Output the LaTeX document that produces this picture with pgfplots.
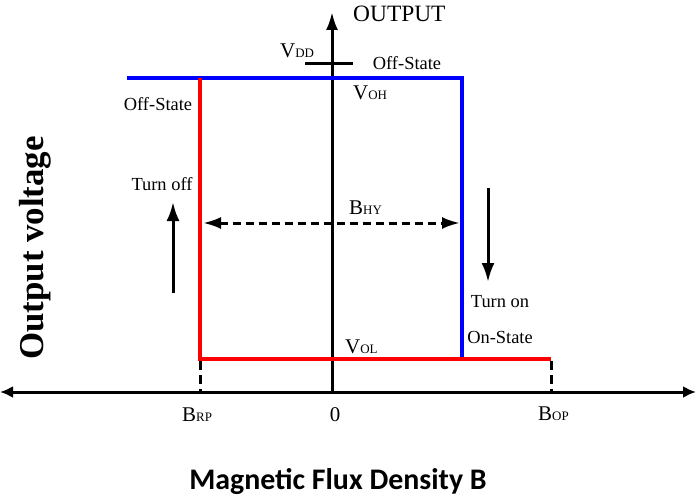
\documentclass[border=0pt]{standalone}
\usepackage{pgfplots}
\pgfplotsset{compat=1.18}
\usepackage{fontspec}
\setmainfont{Liberation Serif}
\newfontfamily\calfont{Carlito}
\usetikzlibrary{arrows.meta}
\newcommand{\lbl}[2]{{\fontsize{21}{21}\selectfont #1\fontsize{13}{13}\selectfont #2}}
\begin{document}
\begin{tikzpicture}
\begin{axis}[
  name=main,
  width=696bp, height=501bp, scale only axis,
  xmin=0, xmax=696, ymin=0, ymax=501, y dir=reverse,
  hide axis, clip=false,
]
% axes
\addplot[black, line width=3bp, {Latex[length=13bp,width=12bp]}-{Latex[length=13bp,width=12bp]}] coordinates {(0,392) (696,392)};
\addplot[black, line width=3bp, -{Latex[length=18bp,width=12bp]}] coordinates {(332,392) (332,12)};
% VDD tick
\addplot[black, line width=3bp] coordinates {(305,64) (353,64)};
% hysteresis loop
\addplot[blue, line width=4bp] coordinates {(127,78) (462,78) (462,358)};
\addplot[red, line width=4bp] coordinates {(200,78) (200,359) (551,359)};
% dashed drops
\addplot[black, line width=3bp, dash pattern=on 9bp off 5bp] coordinates {(200,361) (200,392)};
\addplot[black, line width=3bp, dash pattern=on 9bp off 5bp] coordinates {(551,361) (551,392)};
% B_HY arrow
\addplot[black, line width=3bp, dash pattern=on 8bp off 5bp, {Latex[length=18bp,width=12bp]}-{Latex[length=18bp,width=12bp]}] coordinates {(203,223) (460,223)};
% turn arrows
\addplot[black, line width=3bp, -{Latex[length=19bp,width=13bp]}] coordinates {(173,293) (173,202)};
\addplot[black, line width=3bp, -{Latex[length=19bp,width=13bp]}] coordinates {(488,188) (488,282)};
% texts
\node[anchor=base west, inner sep=0pt, font=\fontsize{23.5}{23.5}\selectfont] at (axis cs:353,22) {OUTPUT};
\node[anchor=base west, inner sep=0pt] at (axis cs:280,58) {\lbl{V}{DD}};
\node[anchor=base, inner sep=0pt, font=\fontsize{18.5}{18.5}\selectfont] at (axis cs:407,70) {Off-State};
\node[anchor=base west, inner sep=0pt] at (axis cs:353,100) {\lbl{V}{OH}};
\node[anchor=base, inner sep=0pt, font=\fontsize{18.5}{18.5}\selectfont] at (axis cs:158,111) {Off-State};
\node[anchor=base, inner sep=0pt, font=\fontsize{18.5}{18.5}\selectfont] at (axis cs:162,190) {Turn off};
\node[anchor=base west, inner sep=0pt] at (axis cs:349,214) {\lbl{B}{HY}};
\node[anchor=base, inner sep=0pt, font=\fontsize{18.5}{18.5}\selectfont] at (axis cs:500,307) {Turn on};
\node[anchor=base, inner sep=0pt, font=\fontsize{18.5}{18.5}\selectfont] at (axis cs:500,343) {On-State};
\node[anchor=base west, inner sep=0pt] at (axis cs:345,353) {\lbl{V}{OL}};
\node[anchor=base west, inner sep=0pt] at (axis cs:182,421) {\lbl{B}{RP}};
\node[anchor=base, inner sep=0pt, font=\fontsize{21}{21}\selectfont] at (axis cs:335,421) {0};
\node[anchor=base west, inner sep=0pt] at (axis cs:538,420) {\lbl{B}{OP}};
\node[rotate=90, anchor=base, inner sep=0pt, font=\fontsize{35}{35}\selectfont\bfseries] at (axis cs:43,248) {Output voltage};
\node[anchor=base, inner sep=0pt, font=\fontsize{30}{30}\selectfont\calfont\bfseries] at (axis cs:338,489) {Magnetic Flux Density B};
\end{axis}
\pgfresetboundingbox
\path (main.south west) rectangle (main.north east);
\end{tikzpicture}
\end{document}
